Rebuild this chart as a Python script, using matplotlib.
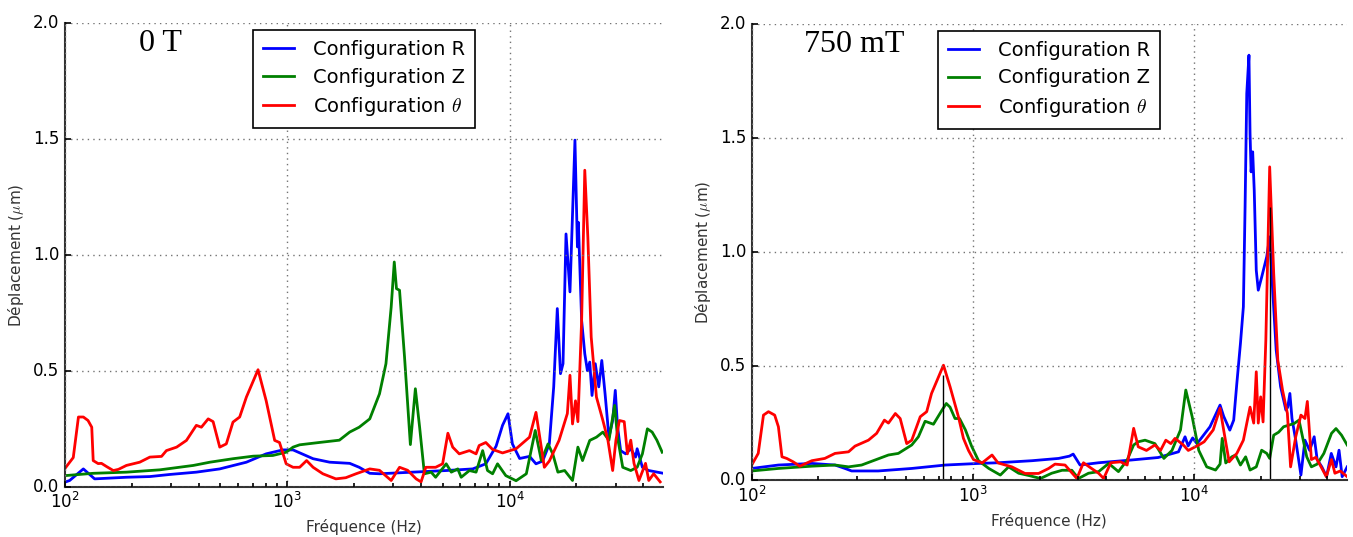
import numpy as np
import matplotlib
matplotlib.use("Agg")
import matplotlib.pyplot as plt

# ---- data (frequency in Hz, displacement in um) ----
# panel 0 T
f_R_0T = [100, 105, 121, 136, 189, 241, 296, 390, 497, 655, 804, 955, 1062, 1307, 1552, 1910,
          2107, 2351, 2600, 3660, 5190, 6830, 7820, 8700, 9300, 9840, 10300, 11100, 12300, 13150,
          14100, 15100, 15800, 16400, 16950, 17400, 17950, 18700, 19690, 20200, 20400, 21100,
          21800, 22400, 22950, 23500, 24300, 25200, 26000, 26900, 28000, 29100, 29900, 30600,
          31600, 33300, 35100, 36900, 37500, 39600, 42300, 48600]
d_R_0T = [0.019, 0.026, 0.076, 0.033, 0.04, 0.043, 0.052, 0.062, 0.076, 0.105, 0.141, 0.158,
          0.158, 0.12, 0.105, 0.1, 0.083, 0.057, 0.055, 0.062, 0.069, 0.076, 0.098, 0.174, 0.264,
          0.314, 0.184, 0.121, 0.13, 0.098, 0.11, 0.184, 0.43, 0.768, 0.487, 0.53, 1.09, 0.84,
          1.495, 1.034, 1.14, 0.717, 0.573, 0.5, 0.537, 0.393, 0.53, 0.43, 0.544, 0.4, 0.213,
          0.285, 0.415, 0.26, 0.155, 0.141, 0.163, 0.127, 0.163, 0.083, 0.069, 0.058]

f_Z_0T = [100, 134, 189, 267, 378, 449, 570, 703, 861, 989, 1062, 1137, 1392, 1716, 1910, 2107,
          2351, 2600, 2780, 2935, 3030, 3100, 3200, 3370, 3580, 3770, 3940, 4140, 4440, 4650,
          5190, 5470, 5850, 6060, 6600, 7070, 7570, 7960, 8390, 8830, 9620, 10700, 11900, 13050,
          13900, 14900, 15650, 16500, 17700, 19200, 20300, 21300, 22950, 24600, 26300, 28000,
          29700, 30600, 32300, 35100, 37500, 39600, 41700, 43800, 46000, 48600]
d_Z_0T = [0.047, 0.057, 0.062, 0.072, 0.091, 0.105, 0.12, 0.131, 0.134, 0.148, 0.17, 0.18, 0.19,
          0.2, 0.235, 0.256, 0.292, 0.4, 0.53, 0.775, 0.969, 0.854, 0.847, 0.559, 0.181, 0.422,
          0.256, 0.055, 0.062, 0.04, 0.098, 0.062, 0.076, 0.04, 0.069, 0.062, 0.155, 0.069, 0.055,
          0.098, 0.047, 0.025, 0.055, 0.242, 0.112, 0.184, 0.141, 0.062, 0.069, 0.026, 0.17,
          0.112, 0.199, 0.213, 0.235, 0.2, 0.35, 0.213, 0.083, 0.069, 0.083, 0.141, 0.249, 0.235,
          0.2, 0.148]

f_T_0T = [100, 109, 115, 121, 127, 132, 134, 141, 146, 154, 165, 174, 189, 217, 241, 272, 286,
          318, 352, 390, 411, 441, 464, 497, 532, 570, 611, 655, 739, 804, 878, 923, 989, 1062,
          1137, 1222, 1307, 1446, 1655, 1834, 2039, 2351, 2600, 2935, 3200, 3480, 3800, 4000,
          4200, 4650, 5000, 5280, 5550, 5940, 6600, 7070, 7300, 7820, 8390, 9300, 10700, 12300,
          13150, 14340, 15100, 16700, 18200, 18700, 19200, 19800, 20300, 21100, 21800, 22500,
          23300, 24600, 26300, 27700, 29100, 30100, 31200, 32800, 33900, 35100, 36300, 38200,
          40900, 42300, 44500, 47600]
d_T_0T = [0.078, 0.125, 0.30, 0.30, 0.285, 0.256, 0.112, 0.099, 0.10, 0.086, 0.069, 0.074, 0.091,
          0.105, 0.127, 0.13, 0.155, 0.17, 0.199, 0.264, 0.256, 0.292, 0.28, 0.17, 0.184, 0.278,
          0.30, 0.386, 0.504, 0.37, 0.199, 0.19, 0.098, 0.083, 0.083, 0.112, 0.083, 0.055, 0.033,
          0.038, 0.055, 0.076, 0.07, 0.026, 0.083, 0.07, 0.033, 0.02, 0.083, 0.083, 0.098, 0.23,
          0.17, 0.141, 0.155, 0.141, 0.177, 0.19, 0.16, 0.145, 0.163, 0.213, 0.32, 0.083, 0.11,
          0.199, 0.315, 0.48, 0.27, 0.37, 0.28, 0.717, 1.365, 1.077, 0.645, 0.386, 0.285, 0.2,
          0.069, 0.2, 0.285, 0.28, 0.141, 0.2, 0.1, 0.026, 0.1, 0.026, 0.055, 0.02]

# panel 750 mT
f_R_750 = [100, 132, 187, 238, 264, 283, 373, 529, 750, 1060, 1300, 1850, 2440, 2730, 2840, 3050,
           3700, 5200, 6880, 8500, 9100, 9400, 9850, 10300, 10600, 11800, 13100, 13600, 14500,
           15100, 15600, 16200, 16700, 17000, 17300, 17700, 17900, 18100, 18400, 18700, 19100,
           19500, 20200, 21300, 21960, 22700, 23500, 24600, 26000, 26500, 27100, 27700, 28800,
           30400, 31700, 33300, 34900, 36000, 37800, 39700, 41700, 43800, 45200, 46700, 49200]
d_R_750 = [0.051, 0.066, 0.073, 0.066, 0.051, 0.04, 0.04, 0.051, 0.066, 0.073, 0.076, 0.085,
           0.095, 0.105, 0.114, 0.066, 0.076, 0.088, 0.099, 0.124, 0.19, 0.15, 0.185, 0.16, 0.175,
           0.234, 0.329, 0.28, 0.219, 0.263, 0.424, 0.6, 0.76, 1.2, 1.696, 1.864, 1.52, 1.352,
           1.44, 1.27, 0.92, 0.833, 0.89, 0.98, 1.067, 0.82, 0.57, 0.41, 0.307, 0.32, 0.38, 0.27,
           0.175, 0.022, 0.175, 0.13, 0.19, 0.09, 0.058, 0.015, 0.117, 0.058, 0.131, 0.015, 0.058]

f_Z_750 = [100, 132, 187, 238, 274, 314, 361, 415, 460, 529, 567, 608, 663, 725, 758, 788, 830,
           870, 925, 985, 1060, 1180, 1330, 1450, 1610, 1790, 2020, 2270, 2530, 2800, 3000, 3330,
           3700, 4110, 4550, 4980, 5330, 5590, 6000, 6650, 7300, 7940, 8680, 9170, 9800, 10500,
           11400, 12500, 13100, 13400, 13900, 14800, 15400, 16200, 17100, 17900, 19100, 20200,
           21300, 21960, 22900, 24100, 25400, 28300, 29800, 32300, 33900, 36000, 38600, 41800,
           43800, 46400, 49200]
d_Z_750 = [0.04, 0.051, 0.061, 0.066, 0.058, 0.066, 0.088, 0.11, 0.117, 0.154, 0.19, 0.258, 0.245,
           0.307, 0.336, 0.32, 0.27, 0.27, 0.22, 0.15, 0.085, 0.051, 0.022, 0.058, 0.03, 0.02,
           0.007, 0.03, 0.043, 0.043, 0.007, 0.03, 0.037, 0.073, 0.037, 0.088, 0.154, 0.168,
           0.175, 0.16, 0.095, 0.13, 0.22, 0.395, 0.278, 0.13, 0.058, 0.044, 0.07, 0.183, 0.075,
           0.102, 0.11, 0.066, 0.102, 0.044, 0.058, 0.131, 0.117, 0.095, 0.197, 0.21, 0.234,
           0.248, 0.263, 0.102, 0.058, 0.07, 0.117, 0.205, 0.226, 0.197, 0.154]

f_T_750 = [100, 107, 113, 119, 127, 132, 137, 144, 154, 165, 187, 214, 238, 274, 293, 337, 367,
           398, 415, 446, 469, 502, 529, 578, 618, 650, 736, 788, 860, 906, 955, 1006, 1100, 1220,
           1300, 1500, 1720, 1980, 2200, 2350, 2610, 2950, 3160, 3450, 3700, 3900, 4200, 4650,
           4980, 5330, 5590, 6090, 6650, 7050, 7450, 7850, 8200, 8940, 9410, 10500, 11100, 12200,
           13100, 13600, 14400, 15600, 16700, 17900, 18600, 19100, 19500, 20000, 20500, 21100,
           21960, 22900, 23900, 25100, 26400, 27300, 28800, 30400, 31700, 32500, 33900, 35500,
           37500, 39600, 41800, 43300, 45800, 49200]
d_T_750 = [0.066, 0.117, 0.285, 0.30, 0.285, 0.234, 0.102, 0.095, 0.08, 0.061, 0.085, 0.095,
           0.117, 0.124, 0.149, 0.175, 0.205, 0.263, 0.25, 0.292, 0.27, 0.16, 0.175, 0.278, 0.3,
           0.38, 0.504, 0.41, 0.278, 0.183, 0.13, 0.09, 0.075, 0.11, 0.075, 0.058, 0.029, 0.029,
           0.051, 0.07, 0.066, 0.007, 0.076, 0.05, 0.03, 0.007, 0.076, 0.08, 0.066, 0.227, 0.146,
           0.13, 0.154, 0.13, 0.175, 0.16, 0.183, 0.154, 0.13, 0.154, 0.168, 0.22, 0.315, 0.22,
           0.08, 0.117, 0.175, 0.32, 0.25, 0.475, 0.25, 0.365, 0.255, 0.614, 1.374, 0.907, 0.526,
           0.395, 0.293, 0.058, 0.19, 0.285, 0.27, 0.345, 0.09, 0.1, 0.058, 0.015, 0.09, 0.03,
           0.04, 0.015]

# thin black marker lines on the 750 mT panel
mark_f = [736, 21960]
mark_top = [0.46, 1.2]

labels = ["Configuration R", "Configuration Z", r"Configuration $\theta$"]
colors = ["b", "g", "r"]

plt.style.use("classic")
plt.rcParams["mathtext.fontset"] = "cm"

fig = plt.figure(figsize=(13.53, 5.37), dpi=100, facecolor="white")
ax1 = fig.add_axes([0.048, 0.094, 0.442, 0.863])
ax2 = fig.add_axes([0.5556, 0.106, 0.4398, 0.849])


def draw_panel(ax, series, title, tx):
    for (f, d), c, lab in zip(series, colors, labels):
        ax.plot(f, d, color=c, lw=2, label=lab)
    ax.set_xscale("log")
    ax.set_xlim(100, 4.9e4)
    ax.set_ylim(0, 2.0)
    ax.set_yticks([0.0, 0.5, 1.0, 1.5, 2.0])
    ax.grid(True, color="0.45", linestyle=":", linewidth=1)
    ax.set_facecolor("white")
    for s in ["top", "right"]:
        ax.spines[s].set_visible(False)
    for s in ["left", "bottom"]:
        ax.spines[s].set_linewidth(1.5)
        ax.spines[s].set_color("#333333")
    ax.tick_params(which="both", top=False, right=False, direction="in", labelsize=12)
    ax.tick_params(which="major", length=4, width=1.2)
    ax.tick_params(which="minor", length=3, width=1.2)
    ax.set_xlabel(u"Fréquence (Hz)", fontsize=11, color="#333333")
    ax.set_ylabel(u"Déplacement ($\\mu$m)", fontsize=11, color="#333333")
    ax.text(tx, 0.94, title, transform=ax.transAxes, fontsize=23,
            family="Liberation Serif", ha="left", va="baseline")
    leg = ax.legend(loc="upper center", bbox_to_anchor=(0.5, 0.985), borderaxespad=0,
                    fontsize=14, handlelength=1.6, handletextpad=1.0, labelspacing=0.45,
                    borderpad=0.5, numpoints=1, fancybox=False, frameon=True)
    leg.get_frame().set_linewidth(1.2)
    leg.get_frame().set_edgecolor("black")


draw_panel(ax1, [(f_R_0T, d_R_0T), (f_Z_0T, d_Z_0T), (f_T_0T, d_T_0T)], "0 T", 0.124)
draw_panel(ax2, [(f_R_750, d_R_750), (f_Z_750, d_Z_750), (f_T_750, d_T_750)], "750 mT", 0.088)
ax2.vlines(mark_f, 0, mark_top, color="black", lw=1)

fig.savefig("out.png", dpi=100, facecolor="white")
